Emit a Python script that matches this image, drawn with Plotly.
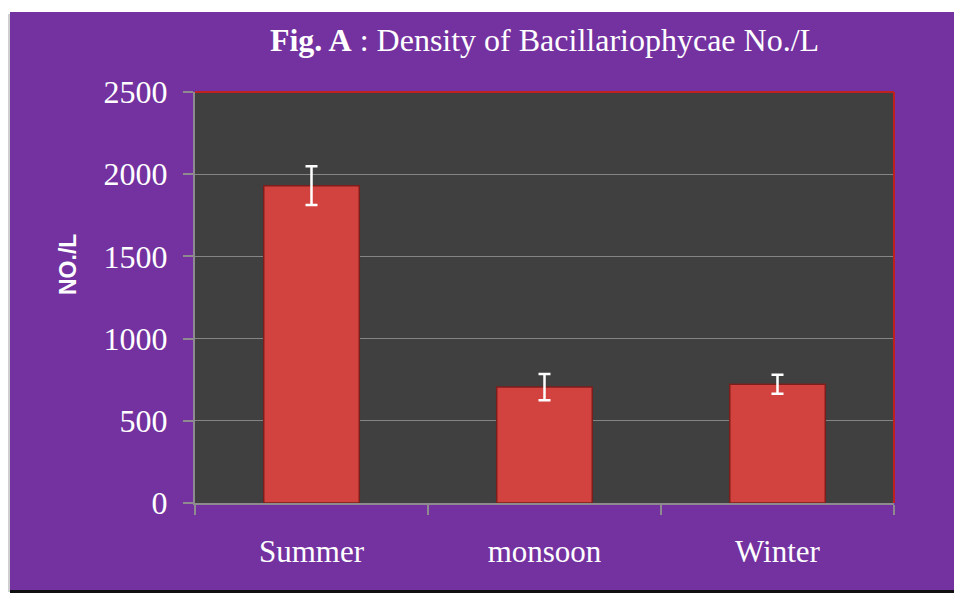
import plotly.graph_objects as go

seasons = ["Summer", "monsoon", "Winter"]
density = [1930, 705, 722]
err = [118, 80, 58]
y_ticks = [0, 500, 1000, 1500, 2000, 2500]

# page body has an 8px margin; work in window pixel coordinates
O = 8
W, H = 962, 593
L, R, T, B = 195 - O, 962 - 894 + O, 92 - O, 593 - 503 + O
pw, ph = W - L - R, H - T - B

def px(x):
    return (x - O - L) / pw

def py(y):
    return (H - B - (y - O)) / ph

fig = go.Figure()
fig.add_trace(go.Bar(
    x=seasons, y=density,
    marker=dict(color="#D2433F", line=dict(color="#7E1E1C", width=1.5)),
    error_y=dict(type="data", array=err, color="white", thickness=2.5, width=6),
    width=0.41,
))

shapes = [
    dict(type="rect", xref="paper", yref="paper", x0=px(0), x1=px(3), y0=py(0), y1=py(610),
         fillcolor="#f2f2f2", line=dict(width=0), layer="below"),
    dict(type="rect", xref="paper", yref="paper", x0=px(4), x1=px(10), y0=py(14), y1=py(592),
         fillcolor="#cfcfcf", line=dict(width=0), layer="below"),
    dict(type="rect", xref="paper", yref="paper", x0=px(10), x1=px(980), y0=py(12), y1=py(590),
         fillcolor="#7332A0", line=dict(width=0), layer="below"),
    dict(type="rect", xref="paper", yref="paper", x0=px(10), x1=px(980), y0=py(590), y1=py(610),
         fillcolor="#111111", line=dict(width=0), layer="below"),
    dict(type="rect", xref="paper", yref="paper", x0=0, x1=1, y0=0, y1=1,
         fillcolor="#404040", line=dict(width=0), layer="below"),
    dict(type="line", xref="paper", yref="paper", x0=0, x1=1, y0=1, y1=1,
         line=dict(color="#C0201E", width=2)),
    dict(type="line", xref="paper", yref="paper", x0=1, x1=1, y0=0, y1=1,
         line=dict(color="#C0201E", width=2)),
]

fig.update_layout(
    width=W, height=H,
    margin=dict(l=L, r=R, t=T, b=B, pad=0),
    paper_bgcolor="white",
    plot_bgcolor="#404040",
    showlegend=False,
    shapes=shapes,
    title=dict(
        text="<b>Fig. A</b> : Density of Bacillariophycae No./L",
        font=dict(family="Liberation Serif", size=32, color="white"),
        x=0.5, xanchor="center", xref="paper",
        y=1 - (40 - O) / H, yanchor="middle",
    ),
    annotations=[dict(
        text="<b>NO./L</b>", xref="paper", yref="paper",
        x=px(68), y=py(265), showarrow=False, textangle=-90,
        font=dict(family="Liberation Sans", size=23, color="white"),
        xanchor="center", yanchor="middle",
    )],
    xaxis=dict(
        showline=True, linecolor="#8f8a8f", linewidth=2,
        ticks="outside", tickson="boundaries", ticklen=10, tickcolor="#8f8a8f", tickwidth=2,
        tickfont=dict(family="Liberation Serif", size=31, color="white"),
        showgrid=False,
        ticklabelstandoff=20,
    ),
    yaxis=dict(
        range=[0, 2500], tickvals=y_ticks,
        showline=True, linecolor="#8f8a8f", linewidth=2,
        ticks="outside", ticklen=10, tickcolor="#8f8a8f", tickwidth=2,
        tickfont=dict(family="Liberation Serif", size=32, color="white"),
        showgrid=True, gridcolor="#858585", gridwidth=1,
        zeroline=False,
        ticklabelstandoff=9,
    ),
)

fig.write_html("out.html")
